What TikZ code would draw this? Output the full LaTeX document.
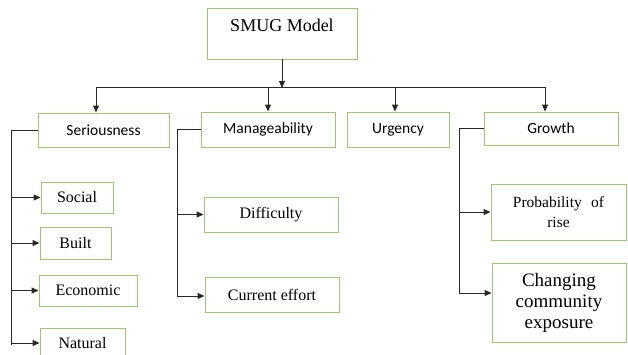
\documentclass[tikz,border=0pt]{standalone}
\usepackage{fontspec}
\setmainfont{Liberation Serif}
\newfontfamily\calib{Carlito}
\usetikzlibrary{arrows.meta}
\definecolor{boxgreen}{RGB}{160,196,112}
\definecolor{linegray}{RGB}{40,40,40}
\tikzset{
  box/.style={draw=boxgreen, line width=0.9pt, inner sep=0pt, align=center, fill=white},
  sbox/.style={box, font=\calib\fontsize{15.5}{18}\selectfont},
  tbox/.style={box, font=\fontsize{16}{20}\selectfont},
  conn/.style={draw=linegray, line width=0.9pt},
  arr/.style={conn, -{Triangle[length=7pt,width=6pt]}}
}
\begin{document}
\begin{tikzpicture}[x=1pt,y=-1pt]
\useasboundingbox (0,0) rectangle (628,354);
\begin{scope}
\clip (0,0) rectangle (628,354);
% boxes
\node[box, font=\fontsize{18}{20}\selectfont, minimum width=150pt, minimum height=51pt, text height=12pt, text depth=17pt] (smug) at (282,33.5) {SMUG Model};
\node[sbox, minimum width=131pt, minimum height=34pt] (ser) at (103.5,130) {Seriousness};
\node[sbox, minimum width=134pt, minimum height=35pt] (man) at (268,129.5) {Manageability};
\node[sbox, minimum width=102pt, minimum height=35pt] (urg) at (398,129.5) {Urgency};
\node[sbox, minimum width=134pt, minimum height=33pt] (gro) at (551,128.5) {Growth};
\node[tbox, minimum width=72pt, minimum height=31pt] (soc) at (77,197.5) {Social};
\node[tbox, minimum width=71pt, minimum height=32pt] (blt) at (75.5,243) {Built};
\node[tbox, minimum width=98pt, minimum height=31pt] (eco) at (88,290.5) {Economic};
\node[tbox, minimum width=85pt, minimum height=32pt, text height=11pt, text depth=3pt] (nat) at (82.5,344) {Natural};
\node[tbox, minimum width=134pt, minimum height=35pt] (dif) at (271,214.5) {Difficulty};
\node[tbox, minimum width=134pt, minimum height=35pt] (cur) at (272,294.5) {Current effort};
\node[box, font=\fontsize{15.5}{20}\selectfont, minimum width=135pt, minimum height=56pt] (pro) at (558.5,212) {Probability\hspace{0.6em}of\\rise};
\node[box, font=\fontsize{19}{21}\selectfont, minimum width=134pt, minimum height=79pt] (chg) at (559,302.5) {Changing\\community\\exposure};
% top connectors
\coordinate (hub) at (282,88);
\coordinate (hl) at (96,87);
\coordinate (hr) at (545,87);
\coordinate (hm) at (268,87);
\coordinate (hu) at (395,87);
\draw[arr] (smug.south) -- (hub);
\draw[conn] (hl) -- (hr);
\draw[arr] (hl) -- (hl |- ser.north);
\draw[arr] (hm) -- (hm |- man.north);
\draw[arr] (hu) -- (hu |- urg.north);
\draw[arr] (hr) -- (hr |- gro.north);
% seriousness branch
\coordinate (sv) at (11,345);
\draw[conn] (ser.west) -| (sv);
\draw[arr] (soc.west -| sv) -- (soc.west);
\draw[arr] (blt.west -| sv) -- (blt.west);
\draw[arr] (eco.west -| sv) -- (eco.west);
\coordinate (na) at (11,343);
\draw[arr] (na) -- (na -| nat.west);
% manageability branch
\coordinate (mv) at (177,296);
\draw[conn] (man.west) -| (mv);
\draw[arr] (dif.west -| mv) -- (dif.west);
\draw[arr] (mv) -- (mv -| cur.west);
% growth branch
\coordinate (gv) at (459,293);
\draw[conn] (gro.west) -| (gv);
\draw[arr] (pro.west -| gv) -- (pro.west);
\draw[arr] (gv) -- (gv -| chg.west);
\end{scope}
\end{tikzpicture}
\end{document}
